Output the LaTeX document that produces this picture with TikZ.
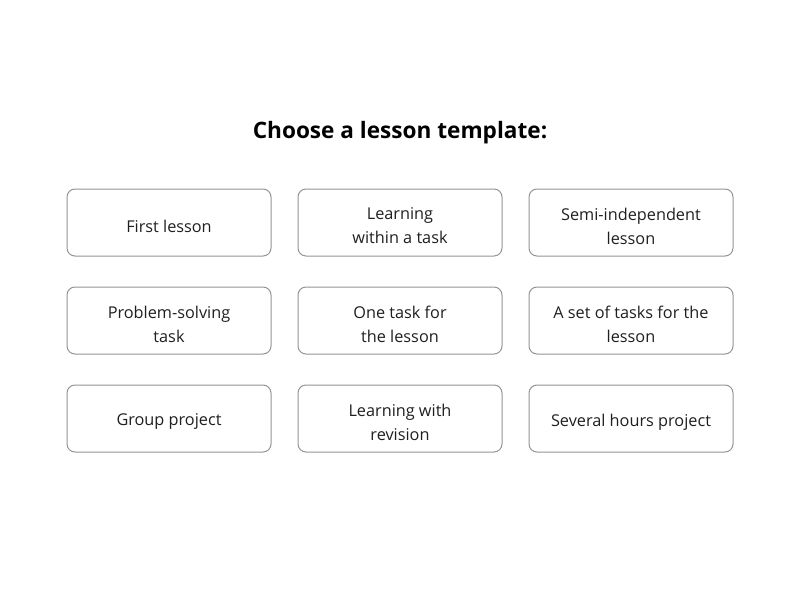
\documentclass[tikz,border=0pt]{standalone}
\usepackage{fontspec}
\setmainfont{Open Sans}
\begin{document}
\begin{tikzpicture}[x=0.75pt,y=-0.75pt,
  tbox/.style={draw=black!42, line width=0.75pt, rounded corners=6pt, minimum width=153pt, minimum height=50.25pt, inner sep=0pt},
  ttext/.style={inner sep=0pt, align=center, font=\fontsize{12.2}{18}\selectfont, text=black!88},
  ttl/.style={font=\bfseries\fontsize{16.95}{20}\selectfont}]
\useasboundingbox (0,0) rectangle (800,600);
\node[ttl] (title) at (400,132.5) {Choose a lesson template:};
\node[tbox] (a1) at (169,222.5) {};
\node[tbox] (a2) at (400,222.5) {};
\node[tbox] (a3) at (631,222.5) {};
\node[tbox] (b1) at (169,320.5) {};
\node[tbox] (b2) at (400,320.5) {};
\node[tbox] (b3) at (631,320.5) {};
\node[tbox] (c1) at (169,418.5) {};
\node[tbox] (c2) at (400,418.5) {};
\node[tbox] (c3) at (631,418.5) {};
\node[ttext] (ta1) at ([yshift=-2.6pt]a1.center) {First lesson};
\node[ttext] (ta2) at ([yshift=-2.6pt]a2.center) {Learning\\within a task};
\node[ttext] (ta3) at ([yshift=-2.6pt]a3.center) {Semi-independent\\lesson};
\node[ttext] (tb1) at ([yshift=-2.6pt]b1.center) {Problem-solving\\task};
\node[ttext] (tb2) at ([yshift=-2.6pt]b2.center) {One task for\\the lesson};
\node[ttext] (tb3) at ([yshift=-2.6pt]b3.center) {A set of tasks for the\\lesson};
\node[ttext] (tc1) at ([yshift=-2.6pt]c1.center) {Group project};
\node[ttext] (tc2) at ([yshift=-2.6pt]c2.center) {Learning with\\revision};
\node[ttext] (tc3) at ([yshift=-2.6pt]c3.center) {Several hours project};
\end{tikzpicture}
\end{document}
